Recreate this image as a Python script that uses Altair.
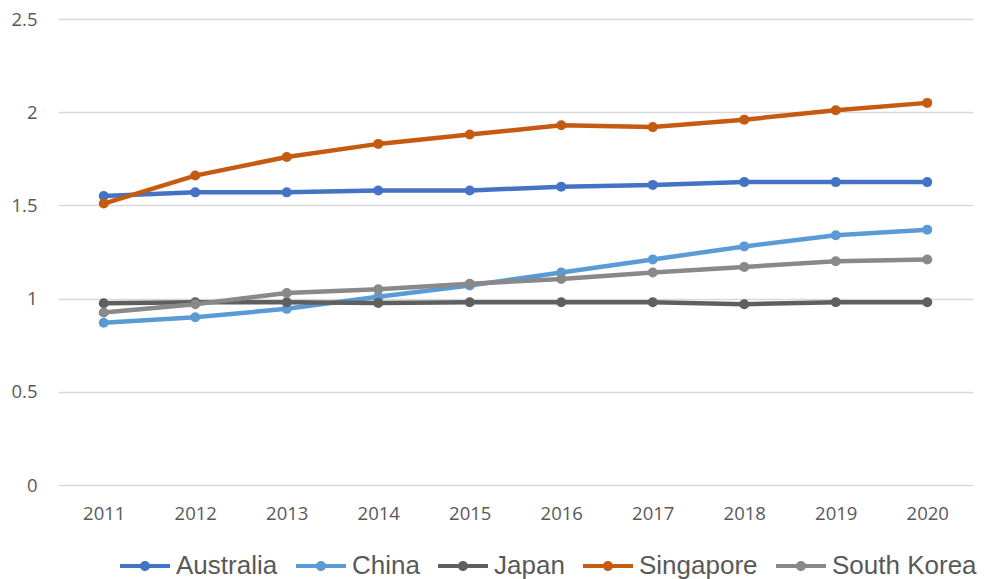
import altair as alt
import pandas as pd

years = ["2011", "2012", "2013", "2014", "2015", "2016", "2017", "2018", "2019", "2020"]
australia = [1.55, 1.57, 1.57, 1.58, 1.58, 1.60, 1.61, 1.625, 1.625, 1.625]
china = [0.87, 0.90, 0.945, 1.01, 1.07, 1.14, 1.21, 1.28, 1.34, 1.37]
japan = [0.975, 0.98, 0.98, 0.977, 0.98, 0.98, 0.98, 0.97, 0.98, 0.98]
singapore = [1.51, 1.66, 1.76, 1.83, 1.88, 1.93, 1.92, 1.96, 2.01, 2.05]
south_korea = [0.925, 0.97, 1.03, 1.05, 1.08, 1.105, 1.14, 1.17, 1.20, 1.21]

series_names = ["Australia", "China", "Japan", "Singapore", "South Korea"]
series_values = [australia, china, japan, singapore, south_korea]
colors = ["#4472C4", "#5B9BD5", "#5F5F5F", "#C55A11", "#898989"]

rows = []
for name, vals in zip(series_names, series_values):
    for y, v in zip(years, vals):
        rows.append({"Year": y, "Value": v, "Country": name})
df = pd.DataFrame(rows)

legend_symbol = (
    "M-1,-0.08L1,-0.08L1,0.08L-1,0.08Z "
    "M-0.2,0A0.2,0.2 0 1,1 0.2,0A0.2,0.2 0 1,1 -0.2,0Z"
)

chart = (
    alt.Chart(df)
    .mark_line(strokeWidth=4.5, point=alt.OverlayMarkDef(size=100, filled=True, opacity=1))
    .encode(
        x=alt.X(
            "Year:O",
            sort=years,
            scale=alt.Scale(type="point", padding=0.5),
            axis=alt.Axis(
                title=None,
                labelAngle=0,
                domain=False,
                ticks=False,
                grid=False,
                labelPadding=19,
                labelFontSize=18.5,
                labelFont="Open Sans",
                labelColor="#595959",
            ),
        ),
        y=alt.Y(
            "Value:Q",
            scale=alt.Scale(domain=[0, 2.5]),
            axis=alt.Axis(
                title=None,
                values=[0, 0.5, 1, 1.5, 2, 2.5],
                format="~g",
                domain=False,
                ticks=False,
                gridColor="#d9d9d9",
                gridWidth=1.3,
                labelPadding=21,
                labelFontSize=18.5,
                labelFont="Open Sans",
                labelColor="#595959",
            ),
        ),
        color=alt.Color(
            "Country:N",
            sort=series_names,
            scale=alt.Scale(domain=series_names, range=colors),
            legend=alt.Legend(
                title=None,
                orient="none",
                legendX=62,
                legendY=522,
                direction="horizontal",
                symbolType=legend_symbol,
                symbolSize=2500,
                symbolStrokeWidth=0,
                labelFont="Liberation Sans",
                labelFontSize=26,
                labelColor="#595959",
                labelOffset=6,
                columnPadding=18,
                symbolOffset=0,
            ),
        ),
        order=alt.Order("Year:O"),
    )
    .properties(
        width=915,
        height=466,
        background="white",
        autosize=alt.AutoSizeParams(type="none"),
        padding={"left": 58, "top": 19, "right": 11, "bottom": 94},
    )
    .configure_view(stroke=None)
)

chart.save("out.html", embed_options={"renderer": "svg", "actions": False})
